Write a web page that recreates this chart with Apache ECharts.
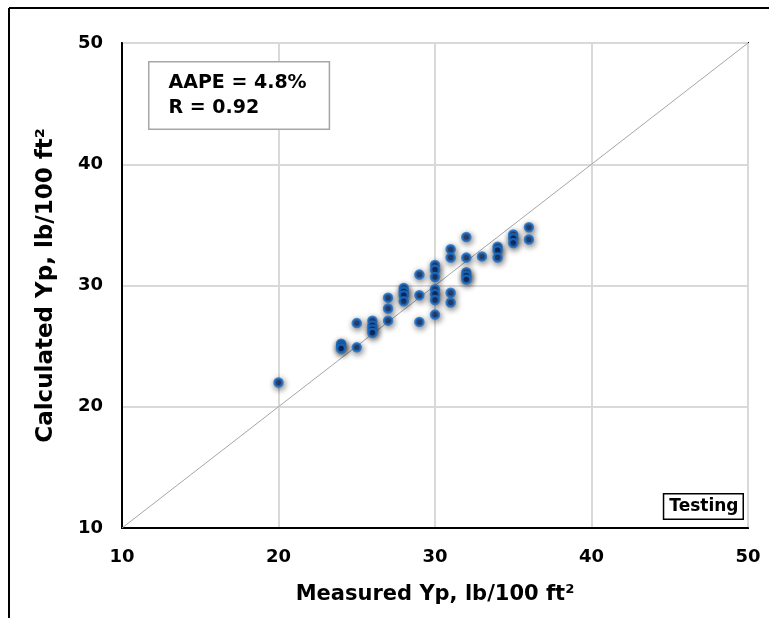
<!DOCTYPE html>
<html>
<head>
<meta charset="utf-8">
<script src="https://cdn.jsdelivr.net/npm/echarts@6/dist/echarts.min.js"></script>
<style>
html, body { margin: 0; padding: 0; background: #fff; }
#main { width: 769px; height: 618px; }
</style>
</head>
<body>
<div id="main"></div>
<script>
// measured vs calculated Yp (testing set), lb/100 ft2
var measured = [20, 24, 24, 24, 25, 25, 26, 26, 26, 26,
  27, 27, 27, 28, 28, 28, 28, 29, 29, 29,
  30, 30, 30, 30, 30, 30, 30, 31, 31, 31, 31,
  32, 32, 32, 32, 32, 33, 34, 34, 34, 35, 35, 35, 36, 36];
var calculated = [22.0, 25.2, 25.0, 24.8, 26.9, 24.9, 27.1, 26.7, 26.4, 26.1,
  29.0, 28.1, 27.1, 29.8, 29.5, 29.2, 28.7, 30.9, 29.2, 27.0,
  31.7, 31.3, 30.7, 29.7, 29.3, 28.8, 27.6, 33.0, 32.3, 29.4, 28.6,
  34.0, 32.3, 31.1, 30.8, 30.5, 32.4, 33.2, 32.9, 32.3, 34.2, 33.9, 33.5, 34.8, 33.8];
var axisTicks = [10, 20, 30, 40, 50];
var identityLine = [[10, 10], [50, 50]];
var statsText = ['AAPE = 4.8%', 'R = 0.92'];
var tagText = 'Testing';

var points = measured.map(function (m, i) { return [m, calculated[i]]; });
var font = 'Verdana, "DejaVu Sans", sans-serif';

var chart = echarts.init(document.getElementById('main'), null, {renderer: 'canvas'});
var option = {
  animation: false,
  backgroundColor: '#fff',
  grid: {
    left: 122, top: 43, right: 21, bottom: 90,
    show: true, borderColor: '#000', borderWidth: 2, backgroundColor: 'transparent'
  },
  xAxis: {
    type: 'value', min: axisTicks[0], max: axisTicks[axisTicks.length - 1], interval: 10,
    name: 'Measured Yp, lb/100 ft²', nameLocation: 'middle', nameGap: 56,
    nameTextStyle: {fontFamily: font, fontWeight: 'bold', fontSize: 21, color: '#000'},
    axisLine: {show: true, lineStyle: {color: '#000', width: 2}},
    axisTick: {show: false},
    axisLabel: {fontFamily: font, fontWeight: 'bold', fontSize: 18, color: '#000', margin: 20},
    splitLine: {show: true, lineStyle: {color: '#d9d9d9', width: 2}}
  },
  yAxis: {
    type: 'value', min: axisTicks[0], max: axisTicks[axisTicks.length - 1], interval: 10,
    name: 'Calculated Yp, lb/100 ft²', nameLocation: 'middle', nameGap: 64,
    nameTextStyle: {fontFamily: font, fontWeight: 'bold', fontSize: 23, color: '#000'},
    axisLine: {show: true, lineStyle: {color: '#000', width: 2}},
    axisTick: {show: false},
    axisLabel: {fontFamily: font, fontWeight: 'bold', fontSize: 18, color: '#000', margin: 19},
    splitLine: {show: true, lineStyle: {color: '#d9d9d9', width: 2}}
  },
  series: [
    {
      type: 'line', data: identityLine, symbol: 'none', silent: true,
      lineStyle: {color: '#a6a6a6', width: 1}, z: 2
    },
    {
      type: 'scatter', data: points, symbol: 'circle', symbolSize: 8,
      itemStyle: {
        color: '#0b2a6e', borderColor: '#1a6fc9', borderWidth: 2.5,
        shadowBlur: 6, shadowColor: 'rgba(0,0,0,0.6)', shadowOffsetX: 1, shadowOffsetY: 2
      },
      z: 3
    }
  ],
  graphic: [
    {type: 'line', shape: {x1: 9, y1: 8, x2: 769, y2: 8}, style: {stroke: '#000', lineWidth: 2}},
    {type: 'line', shape: {x1: 9, y1: 8, x2: 9, y2: 618}, style: {stroke: '#000', lineWidth: 2}},
    {
      type: 'text', left: 148, top: 61, z: 10,
      style: {
        text: statsText.join('\n'), font: 'bold 19px ' + font, fill: '#000', lineHeight: 25,
        padding: [8, 22, 8, 19], backgroundColor: '#fff', borderColor: '#a6a6a6', borderWidth: 1.5
      }
    },
    {
      type: 'text', right: 25, bottom: 98, z: 10,
      style: {
        text: tagText, font: 'bold 17px ' + font, fill: '#000',
        padding: [4, 4, 3, 5], backgroundColor: '#fff', borderColor: '#000', borderWidth: 1.5
      }
    }
  ]
};
chart.setOption(option);
</script>
</body>
</html>
